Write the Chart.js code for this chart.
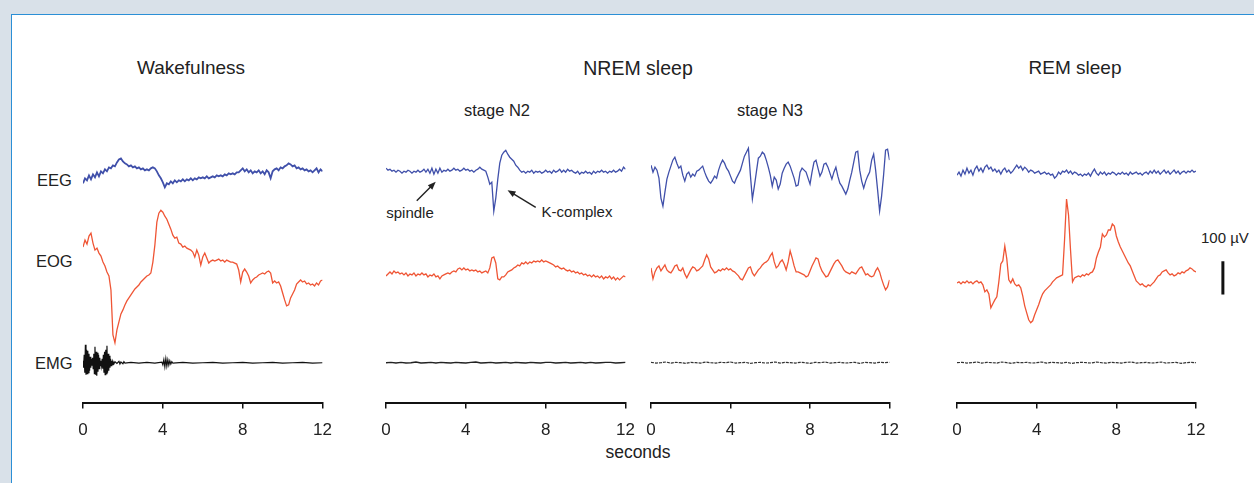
<!DOCTYPE html>
<html>
<head>
<meta charset="utf-8">
<script src="https://cdn.jsdelivr.net/npm/chart.js@4.4.1/dist/chart.umd.min.js"></script>
<style>
  body { margin: 0; width: 1254px; height: 483px; overflow: hidden; position: relative;
         background: #d9e1e9; font-family: "Liberation Sans", Arial, sans-serif; color: #222; }
  #frame { position: absolute; left: 11px; top: 14px; width: 1300px; height: 500px;
           background: #fff; border: 1.5px solid #2b8fd6; }
  .t { position: absolute; white-space: nowrap; transform: translate(-50%, -50%); }
  .l { position: absolute; white-space: nowrap; transform: translateY(-50%); }
  .panel { position: absolute; left: 0; top: 0; }
  canvas { display: block; }
</style>
</head>
<body>
<div id="frame"></div>

<div class="t" style="left:191px; top:68px; font-size:19px;">Wakefulness</div>
<div class="t" style="left:638px; top:68px; font-size:19.5px;">NREM sleep</div>
<div class="t" style="left:1075px; top:68px; font-size:19px;">REM sleep</div>
<div class="t" style="left:497px; top:110px; font-size:16.5px;">stage N2</div>
<div class="t" style="left:770px; top:110px; font-size:16.5px;">stage N3</div>
<div class="l" style="left:37px; top:180px; font-size:16.5px;">EEG</div>
<div class="l" style="left:36px; top:261px; font-size:16.5px;">EOG</div>
<div class="l" style="left:35px; top:363px; font-size:16.5px;">EMG</div>
<div class="t" style="left:410px; top:212px; font-size:15px;">spindle</div>
<div class="t" style="left:577px; top:211px; font-size:15px;">K-complex</div>
<div class="l" style="left:1201px; top:237px; font-size:15px;">100 µV</div>
<div class="t" style="left:638px; top:452px; font-size:17.5px;">seconds</div>

<div class="panel" id="p-wake"><canvas></canvas></div>
<div class="panel" id="p-n2"><canvas></canvas></div>
<div class="panel" id="p-n3"><canvas></canvas></div>
<div class="panel" id="p-rem"><canvas></canvas></div>

<script>
// x axis (seconds)
const secondsMax = 12;
const tickStep = 4;

const wakeEeg = [
  -33,-18,-24,-9,-21,-6,-15,0,-12,3,
  -3,9,3,15,12,21,18,30,39,42,
  33,27,24,18,21,15,18,12,15,9,
  12,6,9,6,12,15,12,3,-9,-18,
  -30,-45,-33,-36,-27,-33,-24,-30,-24,-27,
  -21,-27,-21,-24,-18,-24,-18,-21,-15,-18,
  -15,-18,-12,-18,-15,-12,-15,-9,-12,-9,
  -12,-6,-9,-3,-6,-3,-6,0,0,6,
  12,3,9,0,6,-3,3,0,6,-3,
  3,-6,6,0,-18,3,9,12,6,15,
  12,18,21,27,24,18,21,12,15,9,
  12,6,9,3,6,0,6,12,0,9,
  3];
const wakeEog = [
  81,102,90,114,123,93,72,78,63,54,
  36,24,6,-6,-48,-183,-207,-168,-144,-120,
  -108,-93,-81,-72,-63,-54,-45,-39,-33,-24,
  -18,-12,-6,-3,3,36,87,156,183,192,
  186,174,165,150,135,117,108,111,93,90,
  81,84,78,75,72,66,51,72,57,27,
  51,63,48,33,39,42,39,42,45,39,
  42,36,42,39,36,36,33,30,12,-24,
  6,15,6,-6,-27,-18,-12,-9,-3,0,
  3,0,6,9,3,-27,-21,-27,-24,-36,
  -57,-78,-96,-93,-72,-60,-48,-30,-24,-18,
  -24,-21,-30,-27,-33,-30,-36,-27,-33,-21,
  -18];
// wake EMG as [seconds, µV]: dense muscle bursts early, then almost flat
const wakeEmg = [
  [0,6],[0.03,-15],[0.06,24],[0.09,-30],[0.12,54],[0.15,-36],[0.18,39],[0.21,-33],[0.24,36],[0.27,-30],
  [0.30,27],[0.33,-24],[0.36,18],[0.39,-15],[0.42,12],[0.45,-9],[0.48,15],[0.51,-18],[0.54,27],[0.57,-33],
  [0.60,48],[0.63,-36],[0.66,33],[0.69,-39],[0.72,30],[0.75,-27],[0.78,24],[0.81,-18],[0.84,15],[0.87,-9],
  [0.90,6],[0.93,-9],[0.96,12],[0.99,-18],[1.02,24],[1.05,-30],[1.08,33],[1.11,-36],[1.14,39],[1.17,-33],
  [1.20,51],[1.23,-30],[1.26,27],[1.29,-24],[1.32,21],[1.35,-15],[1.38,12],[1.41,-9],[1.44,6],[1.47,-6],
  [1.50,4],[1.55,-3],[1.60,3],[1.70,-2],[1.80,4],[1.85,-4],[1.90,2],[2.00,-3],[2.05,3],[2.10,-1],
  [2.40,1],[2.80,-1],[3.20,1],[3.60,-1],[3.95,2],[4.00,-6],[4.05,9],[4.10,-12],[4.15,12],[4.20,-10],
  [4.25,9],[4.30,-7],[4.35,6],[4.40,-4],[4.45,3],[4.50,-1],[5.0,1],[5.5,-1],[6.0,0],[6.5,1],
  [7.0,-1],[7.5,0],[8.0,1],[8.5,-1],[9.0,0],[9.5,1],[10.0,-1],[10.5,0],[11.0,1],[11.5,-1],[12.0,0]
];

const n2Eeg = [
  12,6,9,3,6,0,6,3,-3,3,
  0,6,3,-3,3,0,6,0,3,9,
  0,9,-3,12,-6,9,-3,12,0,6,
  3,9,3,6,12,6,9,3,6,12,
  6,9,3,6,0,6,9,15,9,6,
  3,-15,-36,-30,-117,-78,-21,27,51,60,
  66,54,45,39,33,21,15,6,0,3,
  -3,3,0,6,-3,3,0,3,-3,0,
  6,0,3,-3,6,0,3,9,0,6,
  0,9,3,6,0,-3,3,-6,0,-3,
  3,-3,0,-6,3,-3,3,0,6,0,
  3,-3,3,0,6,0,3,9,3,15,
  9];
const n2Eog = [
  -6,0,6,0,9,3,6,0,3,-3,
  3,-6,0,-3,3,-6,0,-3,3,-3,
  0,-9,-3,-6,0,-9,-6,-15,-6,-3,
  0,3,0,6,9,6,15,18,12,18,
  12,15,9,12,9,12,6,9,3,6,
  9,3,18,48,51,33,-15,-18,-9,-9,
  -3,6,9,12,18,21,27,24,33,30,
  36,30,36,33,39,36,39,36,42,36,
  39,36,33,30,27,21,24,18,15,18,
  12,9,12,6,9,3,6,0,3,-3,
  0,-6,-3,-9,-3,-9,-6,-12,-6,-15,
  -9,-12,-6,-15,-9,-18,-12,-18,-12,-6,
  -9];
const n2Emg = [0,1,-1,1,-1,0,2,-1,0,1,-1,1,0,-1,1,0,-1,1,2,-1,0,1,-1,0,1,
  -1,1,0,-1,1,0,-1,1,1,-1,0,1,-1,0,1,-1,1,-1,0,1,1,-1,0,1];

const n3Eeg = [
  21,0,15,6,-18,-78,-102,-60,-21,0,
  18,36,45,27,12,18,-9,-27,-6,0,
  -15,-6,-12,3,6,12,18,0,-15,-27,
  -33,-24,-12,-18,6,24,36,27,12,3,
  -12,-27,-33,-18,-6,6,27,48,60,72,
  -9,-81,-42,0,42,48,60,54,36,15,
  -9,-42,-15,-24,-51,-36,-3,12,24,30,
  18,0,-18,-42,-39,0,12,6,0,-18,
  -36,0,30,36,12,-12,0,24,27,15,
  -3,-21,0,15,-12,-33,-42,-54,-66,-51,
  -24,0,30,60,63,6,-27,-48,-27,-12,
  0,36,54,6,-54,-117,-72,-9,66,69,
  36];
const n3Eog = [
  18,-15,6,18,24,9,18,27,12,6,
  3,12,24,27,12,9,18,0,-12,0,
  12,21,18,9,12,18,24,42,57,45,
  21,12,3,6,12,9,15,12,18,12,
  15,9,6,0,-6,-15,-18,-6,6,18,
  21,3,-6,3,12,18,27,33,36,42,
  54,63,36,18,24,36,42,30,12,36,
  69,48,24,6,6,3,0,-3,-9,-6,
  9,24,36,48,45,24,9,0,-9,-6,
  6,18,30,39,42,33,24,12,6,3,
  0,6,3,0,9,18,21,9,-3,0,
  -6,-9,-6,9,18,6,-15,-33,-48,-39,
  -18];
const n3Emg = [1,-1,0,2,-1,1,0,-2,1,0,-1,2,0,-1,1,0,2,-1,0,1,-2,0,1,-1,0,
  2,-1,1,0,-1,1,0,-2,1,0,2,-1,0,1,-1,0,1,-2,1,0,-1,1,0,1];

const remEeg = [
  -9,0,-12,6,-6,12,-3,6,-9,9,
  18,3,12,0,15,21,9,15,3,9,
  0,6,-6,6,12,0,6,-3,3,12,
  21,12,18,6,15,9,0,6,3,-3,
  0,3,-6,-3,0,-6,-3,-9,-6,-18,
  -12,0,-6,3,0,6,-3,3,-6,0,
  -3,-9,-6,-12,-6,-9,-3,-12,0,9,
  -3,-9,0,-6,0,-9,-3,-6,0,-3,
  -9,-3,-6,0,-6,-3,-9,0,-6,-3,
  0,-6,-3,-9,-3,0,-6,3,-3,6,
  -3,3,-6,0,6,-3,3,-6,0,6,
  -3,3,-6,0,3,-3,3,0,6,0,
  3];
const remEog = [
  -27,-24,-30,-24,-27,-21,-27,-24,-30,-24,
  -21,-27,-24,-33,-54,-48,-60,-102,-90,-78,
  -69,-24,30,39,84,45,-18,-27,-15,-30,
  -36,-33,-42,-66,-96,-117,-138,-147,-141,-123,
  -108,-93,-75,-60,-51,-45,-39,-33,-24,-18,
  -12,-9,-6,-3,102,225,177,72,-24,-12,
  -9,-6,-9,-3,-6,0,-3,3,6,18,
  48,66,81,120,111,117,132,132,150,144,
  114,96,81,69,57,45,33,24,9,-6,
  -21,-27,-33,-30,-36,-39,-33,-36,-30,-24,
  -15,-6,-3,6,9,12,3,-3,0,-6,
  -3,3,0,6,3,9,12,18,15,9,
  6];
const remEmg = [0,1,-1,0,2,-1,1,0,-1,2,0,-2,1,0,1,-1,0,2,-1,1,0,-1,1,-2,0,
  1,0,-1,2,0,-1,1,0,-1,1,2,-1,0,1,-1,0,2,-1,0,1,-2,0,1,0];

// annotations on the N2 EEG (seconds, µV): [tail, head]
const spindleArrow = [[1.54, -86], [2.49, -29]];
const kComplexArrow = [[7.5, -106], [6.09, -54]];
// calibration bar on the REM panel
const scaleBarUv = 100;
const scaleBarLowUv = -62;
const scaleBarT = 13.35;

// layout
const AXIS_Y = 403;          // page y of the time axis
const UV_PER_PX = 3;         // 100 µV ~ 33 px
const ROW_BASE = { EEG: 172, EOG: 274, EMG: 363 };
const CANVAS_H = 330;
const PAD_L = 20;
const COLORS = { EEG: '#4050aa', EOG: '#ef5535', EMG: '#111' };
const FONT = '"Liberation Sans", Arial, sans-serif';

// plain arrays are spread evenly over 0..12 s, [t, v] pairs are used as given
const toPoints = (values) => values.map((v, i) => Array.isArray(v)
  ? { x: v[0], y: v[1] }
  : { x: i * secondsMax / (values.length - 1), y: v });

function drawArrow(ctx, x1, y1, x2, y2) {
  const a = Math.atan2(y2 - y1, x2 - x1);
  const len = 8, w = 3.2;
  ctx.beginPath();
  ctx.moveTo(x1, y1);
  ctx.lineTo(x2 - Math.cos(a) * len * 0.7, y2 - Math.sin(a) * len * 0.7);
  ctx.stroke();
  ctx.beginPath();
  ctx.moveTo(x2, y2);
  ctx.lineTo(x2 - Math.cos(a) * len + Math.sin(a) * w, y2 - Math.sin(a) * len - Math.cos(a) * w);
  ctx.lineTo(x2 - Math.cos(a) * len - Math.sin(a) * w, y2 - Math.sin(a) * len + Math.cos(a) * w);
  ctx.closePath();
  ctx.fill();
}

const arrowPlugin = {
  id: 'arrows',
  afterDatasetsDraw(chart) {
    const { ctx, scales } = chart;
    ctx.save();
    ctx.strokeStyle = '#222';
    ctx.fillStyle = '#222';
    ctx.lineWidth = 1.4;
    [spindleArrow, kComplexArrow].forEach(([tail, head]) => {
      drawArrow(ctx,
        scales.x.getPixelForValue(tail[0]), scales.yEEG.getPixelForValue(tail[1]),
        scales.x.getPixelForValue(head[0]), scales.yEEG.getPixelForValue(head[1]));
    });
    ctx.restore();
  }
};

const scaleBarPlugin = {
  id: 'scaleBar',
  afterDraw(chart) {
    const { ctx, scales } = chart;
    const x = scales.x.getPixelForValue(scaleBarT);
    ctx.save();
    ctx.strokeStyle = '#111';
    ctx.lineWidth = 3;
    ctx.beginPath();
    ctx.moveTo(x, scales.yEOG.getPixelForValue(scaleBarLowUv));
    ctx.lineTo(x, scales.yEOG.getPixelForValue(scaleBarLowUv + scaleBarUv));
    ctx.stroke();
    ctx.restore();
  }
};

function makePanel(id, x0, x12, traces, padR, plugins) {
  const wrap = document.getElementById('p-' + id);
  const canvas = wrap.querySelector('canvas');
  canvas.width = x12 - x0 + PAD_L + padR;
  canvas.height = CANVAS_H;

  const scales = {
    x: {
      type: 'linear', position: 'bottom', min: 0, max: secondsMax,
      ticks: { stepSize: tickStep, color: '#222', padding: 12, font: { family: FONT, size: 17 } },
      grid: { drawOnChartArea: false, drawTicks: true, tickLength: 6, color: '#111', lineWidth: 1.5 },
      border: { display: true, color: '#111', width: 2 }
    }
  };
  Object.keys(ROW_BASE).forEach(row => {
    scales['y' + row] = { type: 'linear', display: false, min: -100, max: 100 };
  });

  const chart = new Chart(canvas, {
    type: 'line',
    data: {
      datasets: traces.map(tr => ({
        label: tr.row,
        data: toPoints(tr.values),
        yAxisID: 'y' + tr.row,
        borderColor: tr.color || COLORS[tr.row],
        borderWidth: tr.width || 1.3,
        borderDash: tr.dash || [],
        pointRadius: 0,
        tension: 0
      }))
    },
    options: {
      responsive: false,
      animation: false,
      events: [],
      layout: { padding: { left: PAD_L, right: padR, top: 0, bottom: 0 } },
      plugins: { legend: { display: false }, tooltip: { enabled: false } },
      scales: scales
    },
    plugins: plugins || []
  });

  // place the canvas so its time axis sits on the page axis line, then fix the µV ranges
  const area = chart.chartArea;
  const top = AXIS_Y - area.bottom;
  wrap.style.left = (x0 - area.left) + 'px';
  wrap.style.top = top + 'px';
  const areaTop = top + area.top;
  Object.keys(ROW_BASE).forEach(row => {
    const s = chart.options.scales['y' + row];
    s.min = -(AXIS_Y - ROW_BASE[row]) * UV_PER_PX;
    s.max = (ROW_BASE[row] - areaTop) * UV_PER_PX;
  });
  chart.update('none');
  return chart;
}

makePanel('wake', 83, 324, [
  { row: 'EEG', values: wakeEeg, width: 1.8 },
  { row: 'EOG', values: wakeEog },
  { row: 'EMG', values: wakeEmg, width: 1.2 }
], 20);

makePanel('n2', 386, 627, [
  { row: 'EEG', values: n2Eeg },
  { row: 'EOG', values: n2Eog },
  { row: 'EMG', values: n2Emg, width: 1.4, color: '#222' }
], 20, [arrowPlugin]);

makePanel('n3', 651, 891, [
  { row: 'EEG', values: n3Eeg },
  { row: 'EOG', values: n3Eog },
  { row: 'EMG', values: n3Emg, width: 1.2, dash: [3, 1], color: '#333' }
], 20);

makePanel('rem', 957, 1196, [
  { row: 'EEG', values: remEeg },
  { row: 'EOG', values: remEog },
  { row: 'EMG', values: remEmg, width: 1.2, dash: [3, 1], color: '#333' }
], 60, [scaleBarPlugin]);
</script>
</body>
</html>
